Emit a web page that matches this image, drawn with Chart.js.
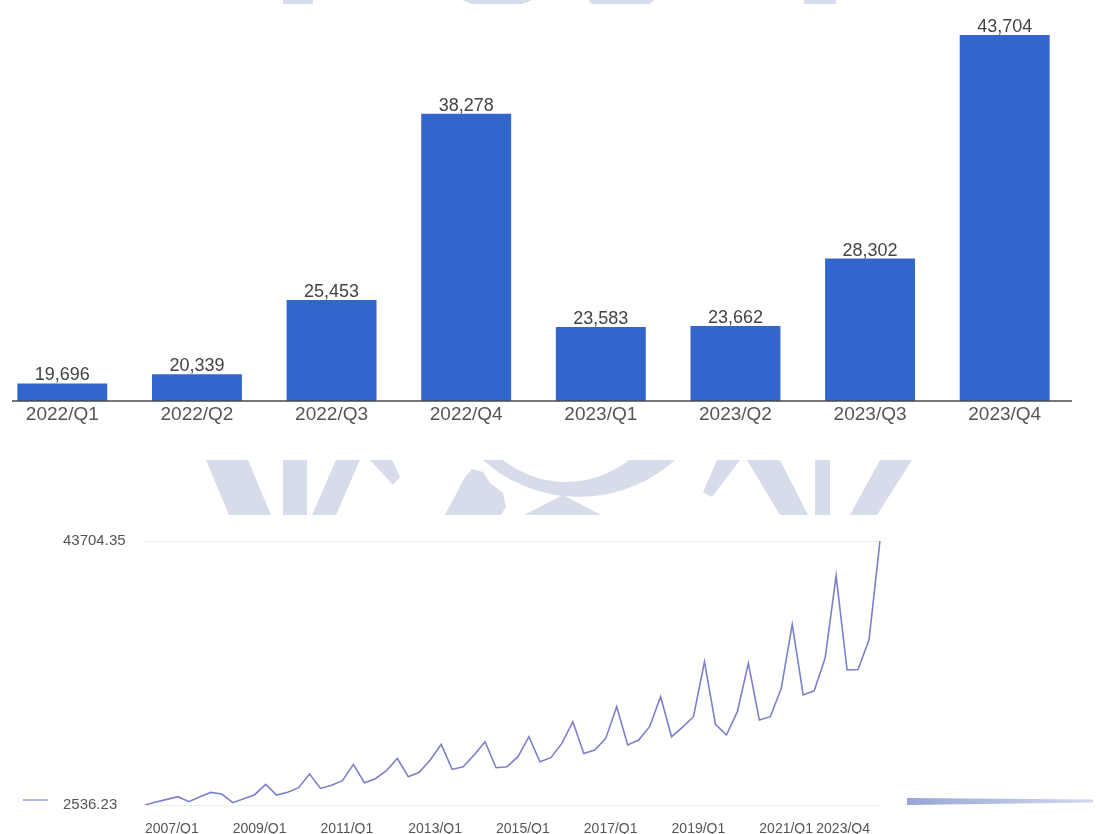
<!DOCTYPE html>
<html>
<head>
<meta charset="utf-8">
<title>Quarterly sales</title>
<script src="https://cdn.jsdelivr.net/npm/chart.js@4.4.0/dist/chart.umd.min.js"></script>
<style>
  html, body { margin: 0; padding: 0; background: #fff; overflow: hidden; }
  body { width: 1096px; height: 834px; position: relative; }
  #trend { position: absolute; left: 0; top: 0; }
  #quarters { position: absolute; left: -5px; top: 0; }
</style>
</head>
<body>
<canvas id="trend" width="1096" height="834"></canvas>
<canvas id="quarters" width="1077" height="430"></canvas>
<script>
const FONT = 'Arial, "Liberation Sans", sans-serif';

// last eight quarters (bar chart)
const quarterLabels = ["2022/Q1", "2022/Q2", "2022/Q3", "2022/Q4", "2023/Q1", "2023/Q2", "2023/Q3", "2023/Q4"];
const quarterValues = [19696, 20339, 25453, 38278, 23583, 23662, 28302, 43704];

// full history 2007/Q1 .. 2023/Q4 (line chart)
const historyYears = [2007, 2008, 2009, 2010, 2011, 2012, 2013, 2014, 2015, 2016, 2017, 2018, 2019, 2020, 2021, 2022, 2023];
const historyLabels = [];
historyYears.forEach(y => { ["Q1", "Q2", "Q3", "Q4"].forEach(q => historyLabels.push(y + "/" + q)); });
const historyValues = [
  2536.23, 3005, 3415, 3830,
  3051, 3830, 4501, 4251,
  2895, 3519, 4142, 5748,
  4095, 4532, 5235, 7370,
  5125, 5625, 6325, 8865,
  6013, 6635, 7885, 9802,
  6949, 7635, 9553, 11985,
  8087, 8508, 10333, 12407,
  8352, 8508, 10068, 13186,
  9288, 9912, 12141, 15525,
  10582, 11112, 12921, 17864,
  11892, 12672, 14746, 19424,
  13186, 14668, 16305, 24881,
  15105, 13451, 17085, 24615,
  15790, 16305, 20718, 30697,
  19696, 20339, 25453, 38278,
  23583, 23662, 28302, 43704.35
];
const historyTicks = ["2007/Q1", "2009/Q1", "2011/Q1", "2013/Q1", "2015/Q1", "2017/Q1", "2019/Q1", "2021/Q1", "2023/Q4"];
const historyRange = [2536.23, 43704.35];

// light logo shapes behind the charts
function drawLogo(ctx) {
  ctx.save();
  ctx.fillStyle = "#d6dcea";
  const polys = [
    [[206, 460], [248, 460], [271, 515], [229, 515]],
    [[283, 460], [307, 460], [307, 515], [283, 515]],
    [[336, 460], [360, 460], [336, 515], [312, 515]],
    [[370, 460], [392, 460], [400, 477], [393, 485]],
    [[445, 515], [465, 477], [472, 469], [483, 472], [490, 483], [503, 493], [506, 507], [501, 515]],
    [[524, 515], [563, 495], [601, 515]],
    [[717, 460], [740, 460], [712, 497], [703, 492]],
    [[747, 460], [780, 460], [808, 515], [780, 515]],
    [[815, 460], [830, 460], [830, 515], [815, 515]],
    [[880, 460], [912, 460], [877, 515], [850, 515]],
    [[283, 0], [313, 0], [313, 4], [283, 4]],
    [[462, 0], [532, 0], [522, 4], [472, 4]],
    [[588, 0], [654, 0], [650, 4], [592, 4]],
    [[804, 0], [836, 0], [836, 4], [804, 4]]
  ];
  polys.forEach(p => {
    ctx.beginPath();
    p.forEach((pt, i) => i ? ctx.lineTo(pt[0], pt[1]) : ctx.moveTo(pt[0], pt[1]));
    ctx.closePath();
    ctx.fill();
  });
  // ring segment
  ctx.beginPath();
  ctx.rect(430, 460, 260, 40);
  ctx.clip();
  ctx.beginPath();
  ctx.arc(579, 354, 143, 0, Math.PI * 2);
  ctx.arc(566, 381, 101, 0, Math.PI * 2);
  ctx.fill("evenodd");
  ctx.restore();

  // side strokes on the lower band
  ctx.save();
  const g = ctx.createLinearGradient(907, 0, 1093, 0);
  g.addColorStop(0, "#97a6d6");
  g.addColorStop(1, "#d2d8ee");
  ctx.fillStyle = g;
  ctx.beginPath();
  ctx.moveTo(907, 798); ctx.lineTo(1093, 799.5); ctx.lineTo(1093, 802.5); ctx.lineTo(907, 805);
  ctx.closePath();
  ctx.fill();
  ctx.strokeStyle = "#b1bae2";
  ctx.lineWidth = 2;
  ctx.beginPath();
  ctx.moveTo(23, 800); ctx.lineTo(48, 800);
  ctx.stroke();
  ctx.restore();
}

const trendDecor = {
  id: "trendDecor",
  beforeDraw(chart) { drawLogo(chart.ctx); },
  afterDraw(chart) {
    const ctx = chart.ctx, x = chart.scales.x;
    ctx.save();
    ctx.font = "14px " + FONT;
    ctx.fillStyle = "#555";
    ctx.textBaseline = "alphabetic";
    historyTicks.forEach(t => {
      const i = historyLabels.indexOf(t);
      const px = x.getPixelForValue(i);
      const last = i === historyLabels.length - 1;
      ctx.textAlign = last ? "right" : "left";
      ctx.fillText(t, last ? px - 10 : px, 833);
    });
    ctx.restore();
  }
};

new Chart(document.getElementById("trend"), {
  type: "line",
  data: {
    labels: historyLabels,
    datasets: [{
      data: historyValues,
      borderColor: "#7e7fcc",
      borderWidth: 1.6,
      pointRadius: 0,
      tension: 0,
      fill: false
    }]
  },
  options: {
    responsive: false,
    animation: false,
    layout: { padding: { left: 63, top: 541, right: 216, bottom: 0 } },
    plugins: { legend: { display: false }, tooltip: { enabled: false } },
    scales: {
      x: {
        ticks: { display: false },
        grid: { display: false, drawTicks: false },
        border: { display: false },
        afterFit: s => { s.height = 29; }
      },
      y: {
        min: historyRange[0],
        max: historyRange[1],
        afterBuildTicks: s => { s.ticks = historyRange.map(v => ({ value: v })); },
        afterFit: s => { s.width = 82; },
        ticks: {
          crossAlign: "far",
          padding: 0,
          color: "#555",
          font: { family: FONT, size: 15 },
          callback: v => String(v)
        },
        grid: { color: "#eeeeee", drawTicks: false },
        border: { display: false }
      }
    }
  },
  plugins: [trendDecor]
});

const barDecor = {
  id: "barDecor",
  afterDatasetsDraw(chart) {
    const ctx = chart.ctx, meta = chart.getDatasetMeta(0), area = chart.chartArea;
    ctx.save();
    ctx.font = "18px " + FONT;
    ctx.fillStyle = "#444";
    ctx.textAlign = "center";
    ctx.textBaseline = "alphabetic";
    meta.data.forEach((bar, i) => {
      ctx.fillText(quarterValues[i].toLocaleString("en-US"), bar.x, bar.y - 3);
    });
    // baseline
    ctx.strokeStyle = "#4a4a4a";
    ctx.lineWidth = 1.5;
    ctx.beginPath();
    ctx.moveTo(area.left + 17, area.bottom);
    ctx.lineTo(area.right, area.bottom);
    ctx.stroke();
    ctx.restore();
  }
};

new Chart(document.getElementById("quarters"), {
  type: "bar",
  data: {
    labels: quarterLabels,
    datasets: [{
      data: quarterValues,
      backgroundColor: "#3366cc",
      barPercentage: 0.668,
      categoryPercentage: 1
    }]
  },
  options: {
    responsive: false,
    animation: false,
    layout: { padding: 0 },
    plugins: { legend: { display: false }, tooltip: { enabled: false } },
    scales: {
      x: {
        grid: { display: false, drawTicks: false },
        border: { display: false },
        ticks: { color: "#555", font: { family: FONT, size: 19 }, padding: 2, autoSkip: false, maxRotation: 0 },
        afterFit: s => { s.height = 29; }
      },
      y: { display: false, min: 18490, max: 46115 }
    }
  },
  plugins: [barDecor]
});
</script>
</body>
</html>
